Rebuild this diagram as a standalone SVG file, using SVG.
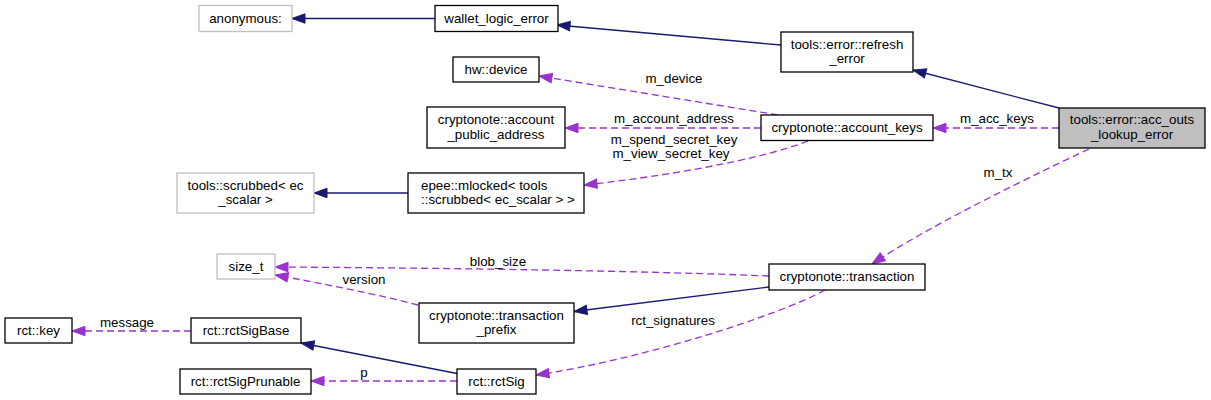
<svg xmlns="http://www.w3.org/2000/svg" width="1211" height="400" viewBox="0 0 1211 400">
<style>
text{font-family:"Liberation Sans",Arial,Helvetica,sans-serif;font-size:13.33px;fill:#000;}
.n rect{fill:#fff;stroke:#000;stroke-width:1.3;}
.g rect{fill:#fff;stroke:#bfbfbf;stroke-width:1.3;}
.c{text-anchor:middle;}
.inh{fill:none;stroke:#191970;stroke-width:1.3;marker-end:url(#an);}
.use{fill:none;stroke:#9a32cd;stroke-width:1.3;stroke-dasharray:7,4;marker-end:url(#ap);}
</style>
<defs>
<marker id="an" markerUnits="userSpaceOnUse" markerWidth="14" markerHeight="10" refX="13" refY="4.7" orient="auto" overflow="visible">
<path d="M0,0 L13,4.7 L0,9.4 z" fill="#191970" stroke="#191970" stroke-width="1"/>
</marker>
<marker id="ap" markerUnits="userSpaceOnUse" markerWidth="14" markerHeight="10" refX="13" refY="4.7" orient="auto" overflow="visible">
<path d="M0,0 L13,4.7 L0,9.4 z" fill="#9a32cd" stroke="#9a32cd" stroke-width="1"/>
</marker>
</defs>
<rect width="1211" height="400" fill="#fff"/>
<g id="connectors">
<path class="inh" d="M435,18.5 L292,18.5"/>
<path class="inh" d="M781,45 L557,25"/>
<path class="inh" d="M1059,108 L913,70"/>
<path class="use" d="M778,115 L539,76"/>
<text class="c" x="674" y="83">m_device</text>
<path class="use" d="M761,128 L565,128"/>
<text class="c" x="674" y="123">m_account_address</text>
<path class="use" d="M808,141 C760,160 660,177 584,185"/>
<text class="c" x="674" y="143.5">m_spend_secret_key</text>
<text class="c" x="671" y="158">m_view_secret_key</text>
<path class="use" d="M1059,128 L933,128"/>
<text class="c" x="997" y="123">m_acc_keys</text>
<path class="use" d="M1089,149 C1040,172 930,225 872,264"/>
<text class="c" x="998" y="177">m_tx</text>
<path class="inh" d="M408,193 L314,193"/>
<path class="use" d="M769,276 C650,271 450,268 275,267"/>
<text class="c" x="498" y="266">blob_size</text>
<path class="use" d="M418,305 C380,295 320,283 275,275"/>
<text class="c" x="364" y="284">version</text>
<path class="inh" d="M769,287 L574,311.5"/>
<path class="use" d="M825,290 C780,315 640,360 536,375"/>
<text class="c" x="673" y="324.5">rct_signatures</text>
<path class="use" d="M191,331 L72,331"/>
<text class="c" x="127" y="327">message</text>
<path class="inh" d="M457,373.5 L301,343"/>
<path class="use" d="M457,381 L311,381"/>
<text class="c" x="364" y="377">p</text>
</g>
<g id="node-anonymous" class="g">
<rect x="199" y="5.5" width="93" height="26"/>
<text class="c" x="245.5" y="23">anonymous:</text>
</g>
<g id="node-wallet_logic_error" class="n">
<rect x="435" y="5.5" width="123" height="26"/>
<text class="c" x="496.5" y="23">wallet_logic_error</text>
</g>
<g id="node-hw_device" class="n">
<rect x="453" y="57" width="86" height="25"/>
<text class="c" x="496" y="74">hw::device</text>
</g>
<g id="node-account_public_address" class="n">
<rect x="427" y="107" width="138" height="41"/>
<text class="c" x="496" y="124">cryptonote::account</text>
<text class="c" x="496" y="138.5">_public_address</text>
</g>
<g id="node-refresh_error" class="n">
<rect x="781" y="32" width="132" height="40"/>
<text class="c" x="847" y="48.5">tools::error::refresh</text>
<text class="c" x="847" y="63">_error</text>
</g>
<g id="node-account_keys" class="n">
<rect x="761" y="115" width="172" height="25.5"/>
<text class="c" x="847" y="132">cryptonote::account_keys</text>
</g>
<g id="node-acc_outs_lookup_error" class="n">
<rect x="1059" y="108" width="146" height="40" style="fill:#bfbfbf"/>
<text class="c" x="1132" y="124">tools::error::acc_outs</text>
<text class="c" x="1132" y="138.5">_lookup_error</text>
</g>
<g id="node-scrubbed" class="g">
<rect x="177" y="173" width="137" height="40"/>
<text class="c" x="245.5" y="189.5">tools::scrubbed&lt; ec</text>
<text class="c" x="245.5" y="204">_scalar &gt;</text>
</g>
<g id="node-mlocked" class="n">
<rect x="408" y="173" width="176" height="40"/>
<text x="421" y="189.5">epee::mlocked&lt; tools</text>
<text x="421" y="204">::scrubbed&lt; ec_scalar &gt; &gt;</text>
</g>
<g id="node-size_t" class="g">
<rect x="217" y="254" width="58" height="25"/>
<text class="c" x="246" y="271">size_t</text>
</g>
<g id="node-transaction" class="n">
<rect x="769" y="264" width="156" height="26"/>
<text class="c" x="847" y="281">cryptonote::transaction</text>
</g>
<g id="node-transaction_prefix" class="n">
<rect x="419" y="303" width="155" height="40"/>
<text class="c" x="496.5" y="319.5">cryptonote::transaction</text>
<text class="c" x="496.5" y="334">_prefix</text>
</g>
<g id="node-rct_key" class="n">
<rect x="5" y="318" width="67" height="25"/>
<text class="c" x="38.5" y="335">rct::key</text>
</g>
<g id="node-rctSigBase" class="n">
<rect x="191" y="318" width="110" height="25"/>
<text class="c" x="246" y="335">rct::rctSigBase</text>
</g>
<g id="node-rctSigPrunable" class="n">
<rect x="180" y="369" width="131" height="25"/>
<text class="c" x="245.5" y="386">rct::rctSigPrunable</text>
</g>
<g id="node-rctSig" class="n">
<rect x="457" y="369" width="79" height="25"/>
<text class="c" x="496.5" y="386">rct::rctSig</text>
</g>
</svg>
